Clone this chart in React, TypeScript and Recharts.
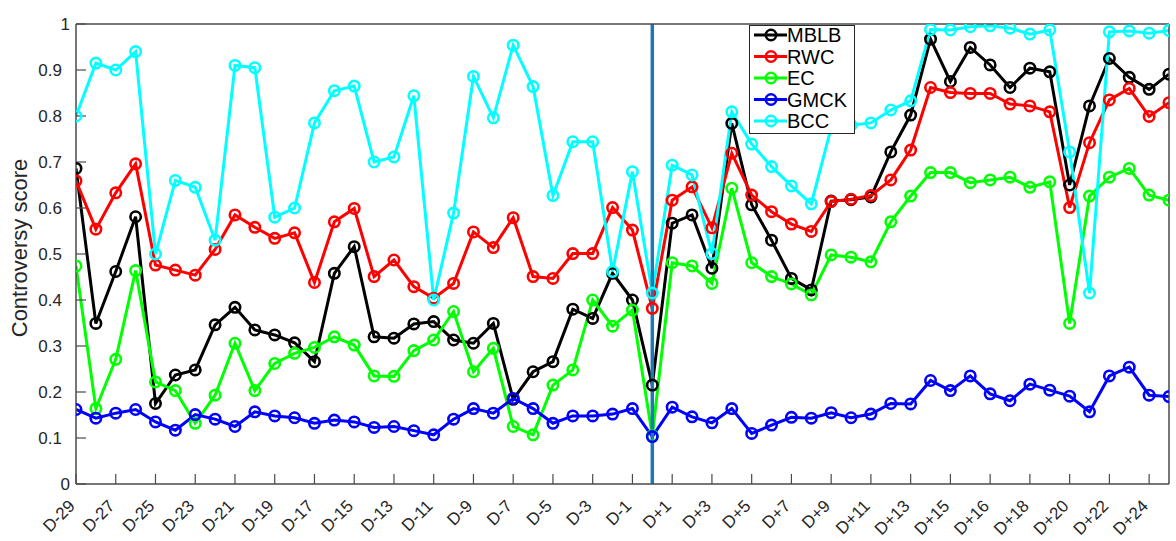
import React from 'react';
import { LineChart, Line, XAxis, YAxis, ReferenceLine, Legend } from 'recharts';

// one value per day, index 0 = D-29, index 29 = D0 (event day)
const MBLB = [
  0.686, 0.349, 0.462, 0.581, 0.175, 0.237, 0.248, 0.346, 0.384, 0.335,
  0.324, 0.307, 0.266, 0.458, 0.516, 0.320, 0.317, 0.348, 0.353, 0.313,
  0.306, 0.349, 0.184, 0.244, 0.266, 0.380, 0.360, 0.458, 0.400, 0.215,
  0.567, 0.585, 0.469, 0.784, 0.607, 0.530, 0.447, 0.422, 0.615, 0.618,
  0.624, 0.722, 0.802, 0.967, 0.875, 0.949, 0.911, 0.862, 0.904, 0.896,
  0.650, 0.822, 0.925, 0.884, 0.858, 0.891,
];
const RWC = [
  0.659, 0.554, 0.633, 0.696, 0.476, 0.465, 0.454, 0.510, 0.585, 0.558,
  0.534, 0.546, 0.438, 0.570, 0.599, 0.451, 0.487, 0.429, 0.404, 0.436,
  0.548, 0.514, 0.579, 0.451, 0.447, 0.501, 0.501, 0.601, 0.552, 0.382,
  0.617, 0.646, 0.557, 0.719, 0.628, 0.592, 0.565, 0.549, 0.614, 0.619,
  0.627, 0.661, 0.726, 0.862, 0.851, 0.849, 0.849, 0.826, 0.822, 0.809,
  0.601, 0.742, 0.835, 0.860, 0.799, 0.829,
];
const EC = [
  0.474, 0.164, 0.271, 0.464, 0.222, 0.203, 0.132, 0.193, 0.306, 0.203,
  0.262, 0.284, 0.297, 0.320, 0.302, 0.235, 0.234, 0.290, 0.313, 0.375,
  0.244, 0.295, 0.125, 0.107, 0.215, 0.248, 0.400, 0.343, 0.378, 0.105,
  0.481, 0.474, 0.436, 0.643, 0.481, 0.451, 0.435, 0.411, 0.498, 0.493,
  0.483, 0.570, 0.626, 0.677, 0.677, 0.655, 0.661, 0.667, 0.645, 0.657,
  0.349, 0.626, 0.667, 0.686, 0.628, 0.617,
];
const GMCK = [
  0.162, 0.143, 0.154, 0.162, 0.135, 0.117, 0.151, 0.141, 0.125, 0.157,
  0.148, 0.144, 0.132, 0.139, 0.135, 0.123, 0.125, 0.116, 0.107, 0.141,
  0.164, 0.154, 0.186, 0.164, 0.132, 0.148, 0.148, 0.152, 0.164, 0.103,
  0.167, 0.146, 0.133, 0.164, 0.110, 0.128, 0.145, 0.143, 0.155, 0.144,
  0.152, 0.175, 0.174, 0.225, 0.203, 0.235, 0.196, 0.181, 0.217, 0.204,
  0.191, 0.157, 0.235, 0.254, 0.193, 0.190,
];
const BCC = [
  0.800, 0.915, 0.900, 0.940, 0.500, 0.660, 0.645, 0.530, 0.910, 0.905,
  0.580, 0.600, 0.785, 0.855, 0.865, 0.700, 0.711, 0.844, 0.400, 0.589,
  0.886, 0.796, 0.954, 0.864, 0.627, 0.744, 0.744, 0.462, 0.679, 0.415,
  0.693, 0.672, 0.501, 0.809, 0.739, 0.690, 0.648, 0.609, 0.775, 0.780,
  0.785, 0.813, 0.833, 0.988, 0.987, 0.994, 0.996, 0.991, 0.978, 0.987,
  0.722, 0.415, 0.983, 0.985, 0.980, 0.986,
];

// labels shown under every second day
const TICK_LABELS = [
  'D-29', 'D-27', 'D-25', 'D-23', 'D-21', 'D-19', 'D-17', 'D-15', 'D-13', 'D-11',
  'D-9', 'D-7', 'D-5', 'D-3', 'D-1',
  'D+1', 'D+3', 'D+5', 'D+7', 'D+9', 'D+11', 'D+13', 'D+15', 'D+16', 'D+18',
  'D+20', 'D+22', 'D+24',
];
const X_TICKS = TICK_LABELS.map((_, i) => i * 2);
const Y_TICKS = [0, 0.1, 0.2, 0.3, 0.4, 0.5, 0.6, 0.7, 0.8, 0.9, 1];
const EVENT_DAY = 29;
const LAST_DAY = MBLB.length - 1;

const SERIES = [
  { key: 'MBLB', color: '#000000', values: MBLB },
  { key: 'RWC', color: '#ff0000', values: RWC },
  { key: 'EC', color: '#00ff00', values: EC },
  { key: 'GMCK', color: '#0000ff', values: GMCK },
  { key: 'BCC', color: '#00ffff', values: BCC },
];

const data = MBLB.map((_, i) => {
  const row: Record<string, number> = { idx: i };
  SERIES.forEach(s => { row[s.key] = s.values[i]; });
  return row;
});

const FONT = '"Liberation Sans", Arial, Helvetica, sans-serif';
const AXIS = '#4a4a4a';
const TEXT = '#262626';

const XTick = ({ x, y, payload }: any) => {
  const label = TICK_LABELS[X_TICKS.indexOf(payload.value)];
  return (
    <text x={x} y={y} textAnchor="end" fontSize={17} fill={TEXT} fontFamily={FONT}
      transform={`rotate(-45, ${x}, ${y})`}>
      {label}
    </text>
  );
};

const YTick = ({ x, y, payload }: any) => {
  const v = payload.value;
  const whole = Number.isInteger(v);
  return (
    <text x={whole ? x + 8 : x} y={y} dy="0.36em" textAnchor="end" fontSize={17} fill={TEXT} fontFamily={FONT}>
      {whole ? String(v) : v.toFixed(1)}
    </text>
  );
};

const YLabel = ({ viewBox }: any) => {
  const cx = viewBox.x - 56;
  const cy = viewBox.y + viewBox.height / 2 - 6;
  return (
    <text x={cx} y={cy} textAnchor="middle" dominantBaseline="central" fontSize={22} fill={TEXT}
      fontFamily={FONT} transform={`rotate(-90, ${cx}, ${cy})`}>
      Controversy score
    </text>
  );
};

const LegendBox = () => (
  <div style={{ width: 106, height: 109, border: `1px solid ${TEXT}`, background: '#fff', boxSizing: 'border-box' }}>
    <svg width={104} height={107} style={{ display: 'block', overflow: 'visible' }}>
      {SERIES.map((s, i) => {
        const y = 9 + i * 21.5;
        return (
          <g key={s.key}>
            <line x1={4} x2={37} y1={y} y2={y} stroke={s.color} strokeWidth={3} />
            <circle cx={21} cy={y} r={5.2} fill="none" stroke={s.color} strokeWidth={2.6} />
            <text x={37} y={y + 7} fontSize={20} fill="#000" fontFamily={FONT}>{s.key}</text>
          </g>
        );
      })}
    </svg>
  </div>
);

export default function App() {
  return (
    <div style={{ position: 'absolute', left: 0, top: 0, width: 1176, height: 541, background: '#fff' }}>
      <LineChart width={1176} height={541} data={data}
        margin={{ top: 23, right: 6, left: 75, bottom: 56 }} style={{ fontFamily: FONT }}>
        <XAxis dataKey="idx" type="number" domain={[0, LAST_DAY]} ticks={X_TICKS} allowDataOverflow
          height={1} tickSize={-10} tickMargin={33} interval={0}
          axisLine={{ stroke: AXIS, strokeWidth: 1.5 }} tickLine={{ stroke: AXIS, strokeWidth: 1.2 }}
          tick={<XTick />} />
        <XAxis xAxisId="top" orientation="top" dataKey="idx" type="number" domain={[0, LAST_DAY]} ticks={X_TICKS}
          allowDataOverflow height={1} tickSize={-10} interval={0}
          axisLine={{ stroke: AXIS, strokeWidth: 1.5 }} tickLine={{ stroke: AXIS, strokeWidth: 1.2 }} tick={false} />
        <YAxis type="number" domain={[0, 1]} ticks={Y_TICKS} allowDataOverflow width={1} tickSize={-10}
          tickMargin={24} interval={0}
          axisLine={{ stroke: AXIS, strokeWidth: 1.5 }} tickLine={{ stroke: AXIS, strokeWidth: 1.2 }}
          tick={<YTick />} label={<YLabel />} />
        <YAxis yAxisId="right" orientation="right" type="number" domain={[0, 1]} ticks={Y_TICKS} allowDataOverflow
          width={1} tickSize={-10} interval={0}
          axisLine={{ stroke: AXIS, strokeWidth: 1.5 }} tickLine={{ stroke: AXIS, strokeWidth: 1.2 }} tick={false} />
        <Legend layout="horizontal" verticalAlign="middle" align="center" content={<LegendBox />}
          wrapperStyle={{ left: 749, top: 25, width: 106, height: 109 }} />
        {SERIES.map(s => (
          <Line key={s.key} dataKey={s.key} name={s.key} stroke={s.color} strokeWidth={3}
            dot={{ r: 5.2, strokeWidth: 2.6, fill: 'none', stroke: s.color }} activeDot={false}
            isAnimationActive={false} />
        ))}
        <ReferenceLine x={EVENT_DAY} stroke="#1f77b8" strokeWidth={3.5} />
      </LineChart>
    </div>
  );
}
